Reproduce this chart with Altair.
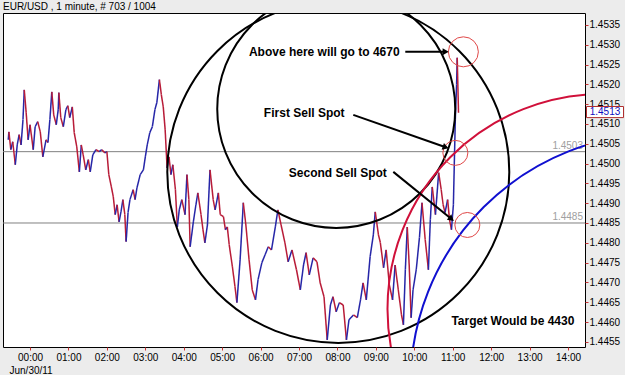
import altair as alt
import pandas as pd

# ---- price path (minutes from 00:00 Jun/30/11, EUR/USD) ----
minutes = [-34, -33, -30, -27, -23, -20, -17, -14, -11, -9, -6, -3, 0, 5, 8, 12, 16, 20, 25, 28,
           31, 34, 37, 41, 44, 45, 48, 52, 56, 59, 62, 66, 69, 73, 77, 80, 83, 87, 91, 94,
           98, 103, 108, 112, 117, 120, 123, 127, 130, 133, 136, 139, 142, 145, 148, 150, 153, 156, 161, 164,
           167, 172, 177, 180, 183, 187, 191, 195, 198, 202, 205, 208, 211, 214, 217, 220, 223, 227, 230, 233,
           237, 242, 245, 248, 250, 255, 259, 262, 267, 270, 273, 277, 281, 286, 289, 294, 297, 302, 305, 308,
           311, 316, 320, 323, 328, 333, 337, 342, 347, 352, 356, 362, 367, 372, 377, 383, 387, 392, 398, 403,
           409, 416, 422, 427, 431, 436, 442, 448, 453, 459, 464, 469, 473, 478, 483, 489, 494, 498, 505, 511,
           516, 520, 525, 531, 536, 539, 544, 547, 552, 556, 561, 566, 570, 575, 580, 583, 586, 589, 592, 595,
           598, 603, 608, 612, 617, 622, 625, 628, 633, 638, 642, 645, 648, 652, 655, 658, 661, 664, 666, 667, 669]
prices = [1.45060, 1.45080, 1.45035, 1.45055, 1.44997, 1.45047, 1.45073, 1.45047, 1.45111, 1.45186,
          1.45128, 1.45060, 1.45098, 1.45035, 1.45093, 1.45106, 1.45080, 1.45017, 1.45060, 1.45053,
          1.45111, 1.45181, 1.45123, 1.45098, 1.45136, 1.45179, 1.45116, 1.45093, 1.45136, 1.45146,
          1.45116, 1.45143, 1.45078, 1.45042, 1.44979, 1.45047, 1.45022, 1.44984, 1.45010, 1.44979,
          1.45022, 1.45035, 1.45030, 1.45035, 1.45027, 1.45030, 1.44972, 1.44941, 1.44916, 1.44871,
          1.44896, 1.44853, 1.44878, 1.44909, 1.44871, 1.44803, 1.44876, 1.44909, 1.44934, 1.44909,
          1.44939, 1.44972, 1.44984, 1.45017, 1.45047, 1.45078, 1.45093, 1.45136, 1.45154, 1.45212,
          1.45174, 1.45143, 1.45085, 1.44989, 1.45017, 1.44972, 1.44997, 1.44934, 1.44840, 1.44883,
          1.44909, 1.44871, 1.44972, 1.44909, 1.44790, 1.44853, 1.44896, 1.44926, 1.44871, 1.44833,
          1.44800, 1.44845, 1.44984, 1.44909, 1.44883, 1.44926, 1.44871, 1.44866, 1.44833, 1.44840,
          1.44795, 1.44739, 1.44689, 1.44649, 1.44757, 1.44901, 1.44845, 1.44757, 1.44681, 1.44656,
          1.44707, 1.44750, 1.44770, 1.44790, 1.44782, 1.44840, 1.44883, 1.44845, 1.44800, 1.44752,
          1.44782, 1.44732, 1.44681, 1.44744, 1.44775, 1.44719, 1.44762, 1.44752, 1.44699, 1.44664,
          1.44555, 1.44643, 1.44664, 1.44626, 1.44649, 1.44643, 1.44555, 1.44606, 1.44618, 1.44611,
          1.44656, 1.44699, 1.44656, 1.44765, 1.44820, 1.44878, 1.44820, 1.44800, 1.44737, 1.44782,
          1.44694, 1.44656, 1.44744, 1.44681, 1.44618, 1.44593, 1.44732, 1.44840, 1.44744, 1.44611,
          1.44681, 1.44732, 1.44813, 1.44901, 1.44808, 1.44732, 1.44858, 1.44941, 1.44871, 1.44977,
          1.44934, 1.44896, 1.44876, 1.44909, 1.44858, 1.44833, 1.44896, 1.45111, 1.45199, 1.45267, 1.45128]

title_text = ["EUR/USD , 1 minute, # 703 / 1004"]
date_label = "Jun/30/11"
hour_ticks = [0, 60, 120, 180, 240, 300, 360, 420, 480, 540, 600, 660, 720, 780, 840]
price_ticks = [1.4455, 1.4460, 1.4465, 1.4470, 1.4475, 1.4480, 1.4485, 1.4490, 1.4495,
               1.4500, 1.4505, 1.4510, 1.4515, 1.4520, 1.4525, 1.4530, 1.4535]
levels = [1.4503, 1.4485]
last_price = [1.4513]

# annotation anchors (minutes, price)
big_circles_t = [481.3, 478.1]
big_circles_p = [1.44979, 1.45138]
red_arc_t, red_arc_p = [893.8], [1.44633]
blue_arc_t, blue_arc_p = [984.4], [1.44444]
spot_t = [676.6, 664.1, 682.8]
spot_p = [1.45282, 1.45027, 1.44845]
label_text = ["Above here will go to 4670", "First Sell Spot", "Second Sell Spot", "Target Would be 4430"]
label_t = [459.4, 428.1, 480.5, 753.9]
label_p = [1.45282, 1.45128, 1.44977, 1.44603]
arrow_t0 = [585.9, 504.7, 567.2]
arrow_p0 = [1.45282, 1.45123, 1.44979]
arrow_t1 = [649.0, 649.0, 658.0]
arrow_p1 = [1.45282, 1.45041, 1.44860]
arrow_angle = [0, 19, 39]

# ---- build tables ----
seg = pd.DataFrame({"t0": minutes[:-1], "t1": minutes[1:], "p0": prices[:-1], "p1": prices[1:]})
seg["dir"] = ["up" if b >= a else "down" for a, b in zip(prices[:-1], prices[1:])]

xs = alt.Scale(domain=[-42.2, 866.5], nice=False, zero=False)
ys = alt.Scale(domain=[1.44537, 1.45380], nice=False, zero=False)
FONT = "Liberation Sans"

x_axis = alt.Axis(values=hour_ticks,
                  labelExpr="(datum.value/60 < 10 ? '0' : '') + (datum.value/60) + ':00'",
                  tickColor="#cc3333", tickSize=3, domain=False, grid=False,
                  labelFontSize=10, labelFont=FONT, labelColor="black", labelPadding=2,
                  labelOverlap=False,
                  title=date_label, titleAnchor="start", titleAlign="left", titleX=6, titleY=26,
                  titleFontSize=10, titleFontWeight="normal", titleFont=FONT, titleColor="black",
                  titleBaseline="alphabetic")
y_axis = alt.Axis(orient="right", values=price_ticks, format=".4f", tickColor="#cc3333",
                  tickSize=3, labelPadding=1, domain=False, grid=False, title=None,
                  labelFontSize=10, labelFont=FONT, labelColor="black", labelOverlap=False)


def X(f):
    return alt.X(f, scale=xs, axis=x_axis, title=date_label)


def Y(f):
    return alt.Y(f, scale=ys, axis=y_axis, title=None)


levels_df = pd.DataFrame({"p": levels})
level_lines = alt.Chart(levels_df).mark_rule(color="#808080", strokeWidth=1).encode(y=Y("p:Q"))
level_text = alt.Chart(levels_df).mark_text(align="right", baseline="bottom", dy=-1, color="#a0a0a0",
                                            fontSize=10, font=FONT).encode(
    x=alt.value(580), y=Y("p:Q"), text=alt.Text("p:Q", format=".4f"))

path = alt.Chart(seg).mark_rule(strokeWidth=1.5).encode(
    x=X("t0:Q"), x2="t1:Q", y=Y("p0:Q"), y2="p1:Q",
    color=alt.Color("dir:N", scale=alt.Scale(domain=["up", "down"], range=["#2626a8", "#b81c38"]),
                    legend=None))

sq = alt.Scale(type="pow", exponent=2, domain=[0, 1], range=[0, 1], clamp=False)

big_df = pd.DataFrame({"t": big_circles_t, "p": big_circles_p, "d": [342, 238]})
big = alt.Chart(big_df).mark_point(shape="circle", filled=False, clip=True, opacity=1,
                                   color="black", strokeWidth=2).encode(
    x=X("t:Q"), y=Y("p:Q"), size=alt.Size("d:Q", scale=sq, legend=None))

red_arc = alt.Chart(pd.DataFrame({"t": red_arc_t, "p": red_arc_p})).mark_point(
    shape="circle", filled=False, clip=True, opacity=1, color="#d0103a", strokeWidth=2, size=430 * 430).encode(
    x=X("t:Q"), y=Y("p:Q"))
blue_arc = alt.Chart(pd.DataFrame({"t": blue_arc_t, "p": blue_arc_p})).mark_point(
    shape="circle", filled=False, clip=True, opacity=1, color="#1010d0", strokeWidth=2, size=500 * 500).encode(
    x=X("t:Q"), y=Y("p:Q"))

spot_df = pd.DataFrame({"t": spot_t, "p": spot_p, "d": [30, 25, 25]})
spots = alt.Chart(spot_df).mark_point(shape="circle", filled=False, clip=True, opacity=1,
                                      color="#e04848", strokeWidth=1).encode(
    x=X("t:Q"), y=Y("p:Q"), size=alt.Size("d:Q", scale=sq, legend=None))

arr_df = pd.DataFrame({"t0": arrow_t0, "p0": arrow_p0, "t1": arrow_t1, "p1": arrow_p1, "a": arrow_angle})
arrows = alt.Chart(arr_df).mark_rule(color="black", strokeWidth=2).encode(
    x=X("t0:Q"), x2="t1:Q", y=Y("p0:Q"), y2="p1:Q")
heads = alt.Chart(arr_df).mark_point(shape="triangle-right", filled=True, opacity=1, color="black",
                                     size=50).encode(
    x=X("t1:Q"), y=Y("p1:Q"), angle=alt.Angle("a:Q", scale=None))

lab_df = pd.DataFrame({"t": label_t, "p": label_p, "s": label_text})
labels = alt.Chart(lab_df).mark_text(fontWeight="bold", fontSize=12, font=FONT, color="black").encode(
    x=X("t:Q"), y=Y("p:Q"), text="s:N")

box_df = pd.DataFrame({"p": last_price})
box = alt.Chart(box_df).mark_point(shape="M-1,-0.3L1,-0.3L1,0.3L-1,0.3Z", size=1369, filled=True,
                                   fill="white", stroke="#b03030", strokeWidth=1, opacity=1).encode(
    x=alt.value(602), y=Y("p:Q"))
box_text = alt.Chart(box_df).mark_text(color="#1010c0", fontSize=10, font=FONT).encode(
    x=alt.value(602), y=Y("p:Q"), text=alt.Text("p:Q", format=".4f"))

title = alt.Chart(pd.DataFrame({"s": title_text})).mark_text(
    align="left", baseline="alphabetic", fontSize=10, font=FONT, color="black").encode(
    x=alt.value(0), y=alt.value(-3), text="s:N")

chart = alt.layer(level_lines, level_text, path, big, red_arc, blue_arc, spots, arrows, heads, labels,
                  box, box_text, title).properties(
    width=582, height=334, autosize="none",
    padding={"left": 3, "top": 13, "right": 40, "bottom": 28},
    background="#ececec",
).configure_view(fill="white", stroke="black", strokeWidth=1).configure_axis(labelOverlap=False)

chart.save("out.html", embed_options={"renderer": "svg", "actions": False})
